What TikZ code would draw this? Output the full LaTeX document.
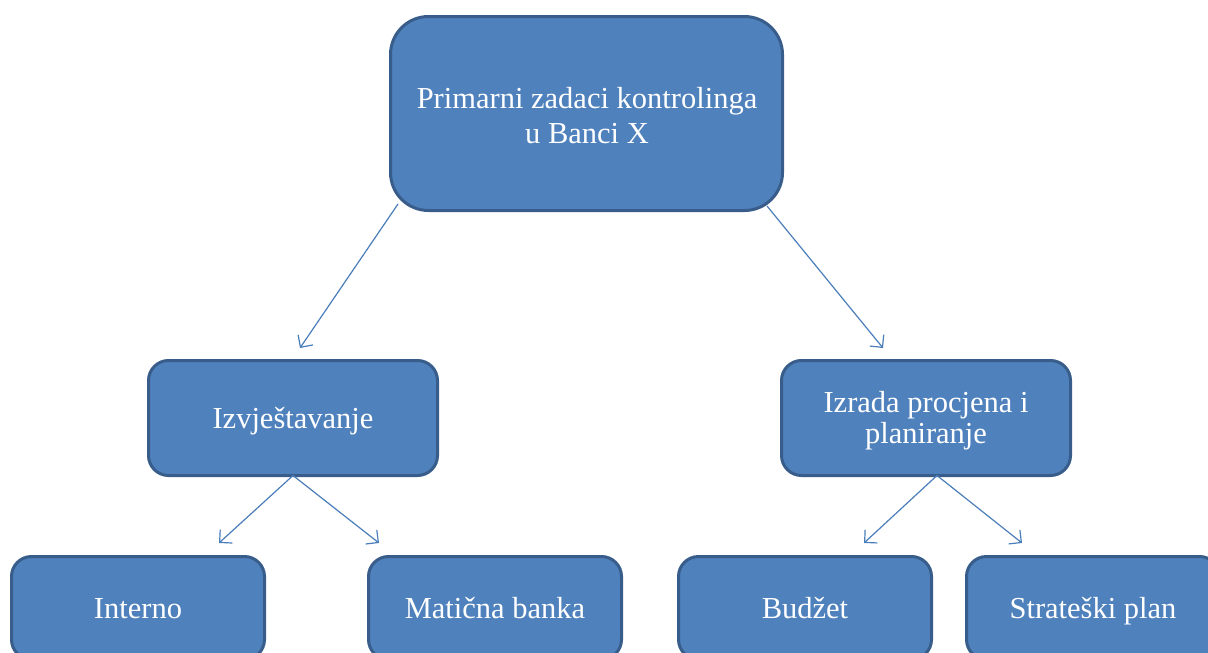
\documentclass[tikz,border=0pt]{standalone}
\usepackage{fontspec}
\setmainfont{Liberation Serif}
\usetikzlibrary{arrows.meta}
\definecolor{boxfill}{HTML}{4F81BD}
\definecolor{boxdraw}{HTML}{385D8A}
\definecolor{arrowc}{HTML}{4A7EBB}
\begin{document}
\begin{tikzpicture}[x=1pt,y=-1pt,
  lbl/.style={text=white, inner sep=0pt, font=\fontsize{30.5}{35}\selectfont},
  box/.style={lbl, draw=boxdraw, fill=boxfill, line width=3pt, align=center},
  bigbox/.style={box, rounded corners=38pt, minimum width=392pt, minimum height=194pt},
  midbox/.style={box, rounded corners=20pt, minimum width=289pt, minimum height=115pt},
  lowbox/.style={box, rounded corners=20pt, minimum width=253pt, minimum height=103pt},
  oneline/.style={text height=20.2pt, text depth=0pt},
  line/.style={lbl, anchor=base},
  conn/.style={draw=arrowc, line width=1.2pt, -{Straight Barb[length=9pt,width=18pt]}}]
\useasboundingbox (0,0) rectangle (1208,653);
\clip (0,0) rectangle (1208,653);
\fill[white] (0,0) rectangle (1208,653);
\node[bigbox] (top) at (586.5,113.5) {};
\node[line] (top1) at (587,108) {Primarni zadaci kontrolinga};
\node[line] (top2) at (587,143) {u Banci X};
\node[midbox, oneline] (izv) at (293,418) {Izvještavanje};
\node[midbox] (izr) at (926,418) {};
\node[line] (izr1) at (926,412) {Izrada procjena i};
\node[line] (izr2) at (926,443) {planiranje};
\node[lowbox, oneline] (int) at (138,608) {Interno};
\node[lowbox, oneline] (mat) at (495,608) {Matična banka};
\node[lowbox, oneline] (bud) at (805,608) {Budžet};
\node[lowbox, oneline] (str) at (1093,608) {Strateški plan};
\coordinate (e1) at (300,348);
\coordinate (e2) at (883,348);
\coordinate (e3) at (219,543);
\coordinate (e4) at (379,543);
\coordinate (e5) at (864,543);
\coordinate (e6) at (1022,543);
\draw[conn] ([xshift=9pt,yshift=8pt]top.south west) -- (e1);
\draw[conn] ([xshift=-17pt,yshift=6pt]top.south east) -- (e2);
\draw[conn] ([yshift=1.5pt]izv.south) -- (e3);
\draw[conn] ([yshift=1.5pt]izv.south) -- (e4);
\draw[conn] ([xshift=11pt,yshift=1.5pt]izr.south) -- (e5);
\draw[conn] ([xshift=11pt,yshift=1.5pt]izr.south) -- (e6);
\end{tikzpicture}
\end{document}
